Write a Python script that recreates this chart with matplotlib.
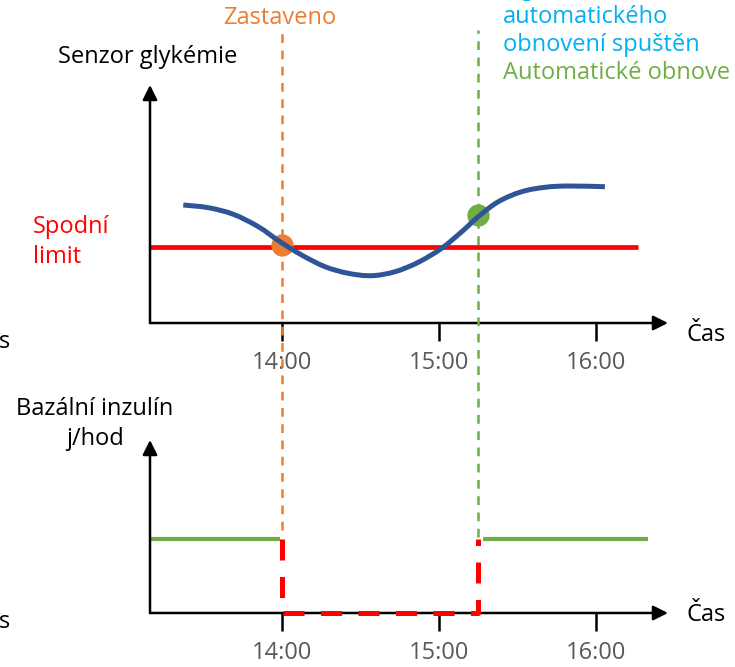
import matplotlib
matplotlib.use("Agg")
import matplotlib.pyplot as plt
from matplotlib.path import Path
from matplotlib.patches import PathPatch

plt.rcParams["font.family"] = ["Open Sans", "DejaVu Sans"]

W, H = 735, 667

# sensor glucose curve (time in hours, arbitrary glucose units)
cgm_time = [13.371, 13.531, 13.690, 13.849, 13.987, 14.125, 14.274, 14.422, 14.571, 14.720,
            14.868, 15.017, 15.145, 15.250, 15.378, 15.527, 15.675, 15.824, 16.057]
cgm_value = [118, 115.3, 108.7, 96.3, 81.3, 68, 56.3, 49.7, 47.3, 51.3,
             60.7, 74.7, 91.3, 106.3, 121.3, 131.3, 135.7, 137, 136.3]
low_limit = 76.3
limit_span = [13.16, 16.27]

suspend_time = 14.0
resume_time = 15.25
suspend_value = 78
resume_value = 108

# basal insulin (u/h)
basal_before = ([13.16, 13.99], [1.0, 1.0])
basal_after = ([15.28, 16.33], [1.0, 1.0])
suspended_time = [14.0, 14.0, 15.25, 15.25]
suspended_rate = [1.0, 0.0, 0.0, 1.0]

hour_ticks = [14, 15, 16]
hour_labels = ["14:00", "15:00", "16:00"]

BLUE = "#2F5597"
RED = "#FF0000"
ORANGE = "#ED7D31"
GREEN = "#70AD47"
CYAN = "#00B0F0"
GRAY = "#595959"

x0, x1 = 13.159, 16.459
fs = 17


def px(x, y):
    return x / W, 1 - y / H


def smooth_path(xs, ys):
    # catmull-rom style bezier through the read points
    pts = list(zip(xs, ys))
    verts = [pts[0]]
    codes = [Path.MOVETO]
    for i in range(len(pts) - 1):
        p0 = pts[i - 1] if i > 0 else pts[i]
        p1, p2 = pts[i], pts[i + 1]
        p3 = pts[i + 2] if i + 2 < len(pts) else p2
        c1 = (p1[0] + (p2[0] - p0[0]) / 6, p1[1] + (p2[1] - p0[1]) / 6)
        c2 = (p2[0] - (p3[0] - p1[0]) / 6, p2[1] - (p3[1] - p1[1]) / 6)
        verts += [c1, c2, p2]
        codes += [Path.CURVE4] * 3
    return Path(verts, codes)


def setup_axis(ax):
    for s in ax.spines.values():
        s.set_visible(False)
    ax.set_xlim(x0, x1)
    ax.set_yticks([])
    ax.set_xticks(hour_ticks)
    ax.set_xticklabels(hour_labels, color=GRAY, fontsize=fs)
    ax.tick_params(axis="x", direction="out", length=13, width=1.8, pad=7)
    ax.patch.set_alpha(0)
    arrow = dict(arrowstyle="-|>", lw=1.8, color="black", mutation_scale=22,
                 shrinkA=0, shrinkB=0)
    ax.annotate("", xy=(1, 0), xytext=(0, 0), xycoords="axes fraction", arrowprops=arrow)
    ax.annotate("", xy=(0, 1), xytext=(0, 0), xycoords="axes fraction", arrowprops=arrow)


fig = plt.figure(figsize=(W / 100, H / 100), dpi=100)

# upper panel: sensor glucose
ax1 = fig.add_axes([150 / W, 1 - 323 / H, 518 / W, 238 / H])
setup_axis(ax1)
ax1.set_ylim(0, 238)
ax1.plot(limit_span, [low_limit, low_limit], color=RED, lw=3.4, solid_capstyle="butt", zorder=2)
# dashed markers running through both panels
ax1.axvline(suspend_time, ymin=(323 - 530) / 238, ymax=(323 - 30) / 238, color=ORANGE,
            lw=1.8, ls=(0, (3.5, 3)), clip_on=False, zorder=3)
ax1.axvline(resume_time, ymin=(323 - 537) / 238, ymax=(323 - 30) / 238, color=GREEN,
            lw=1.8, ls=(0, (3.5, 3)), clip_on=False, zorder=3)
ax1.plot([suspend_time], [suspend_value], "o", color=ORANGE, ms=15, zorder=4)
ax1.plot([resume_time], [resume_value], "o", color=GREEN, ms=15, zorder=4)
ax1.add_patch(PathPatch(smooth_path(cgm_time, cgm_value), facecolor="none", edgecolor=BLUE,
                        lw=3.6, capstyle="butt", zorder=5))

# lower panel: basal insulin
ax2 = fig.add_axes([150 / W, 1 - 613 / H, 518 / W, 173 / H])
setup_axis(ax2)
ax2.set_ylim(0, 2.34)
ax2.plot(*basal_before, color=GREEN, lw=3, solid_capstyle="butt")
ax2.plot(*basal_after, color=GREEN, lw=3, solid_capstyle="butt")
ax2.plot(suspended_time, suspended_rate, color=RED, lw=3.6, ls=(0, (4.2, 3.3)),
         dash_capstyle="butt", clip_on=False, zorder=5)

# labels
fig.text(*px(280, 18), "Zastaveno", color=ORANGE, fontsize=fs, ha="center", va="center")
fig.text(*px(503, -11), "Signál", color=CYAN, fontsize=fs, ha="left", va="center")
fig.text(*px(503, 17), "automatického", color=CYAN, fontsize=fs, ha="left", va="center")
fig.text(*px(503, 45), "obnovení spuštěn", color=CYAN, fontsize=fs, ha="left", va="center")
fig.text(*px(503, 73), "Automatické obnove", color=GREEN, fontsize=fs, ha="left", va="center")
fig.text(*px(58, 57), "Senzor glykémie", color="black", fontsize=fs, ha="left", va="center")
fig.text(*px(33, 242), "Spodní\nlimit", color=RED, fontsize=fs, ha="left", va="center",
         linespacing=1.3)
fig.text(*px(95, 424), "Bazální inzulín\nj/hod", color="black", fontsize=fs, ha="center",
         va="center", linespacing=1.3)
for y in (335, 615):
    fig.text(*px(686, y), "Čas", color="black", fontsize=fs, ha="left", va="center")
for y in (342, 622):
    fig.text(*px(11, y), "Čas", color="black", fontsize=fs, ha="right", va="center")

fig.savefig("out.png", dpi=100)
